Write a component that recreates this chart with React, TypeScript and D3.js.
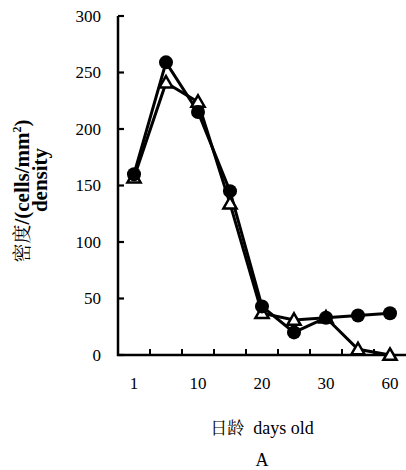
import React from "react";
import * as d3 from "d3";

const categories = ["1", "5", "10", "15", "20", "25", "30", "45", "60"];
const tickLabels = ["1", "10", "20", "30", "60"];
const circleSeries = [160, 259, 215, 145, 43, 20, 33, 35, 37];
const triangleSeries = [157, 241, 224, 134, 37, 31, 33, 5, 0];
const yTicks = [0, 50, 100, 150, 200, 250, 300];

const W = 406, H = 470;
const left = 118, right = 406, top = 16, bottom = 355;
const serif = "'Liberation Serif', 'DejaVu Serif', serif";
const cjk = "'Noto Serif CJK SC', 'Noto Sans CJK SC', serif";

export default function App() {
  const x = d3.scaleBand<string>().domain(categories).range([left, right]).padding(0);
  const y = d3.scaleLinear().domain([0, 300]).range([bottom, top]);
  const cx = (c: string) => (x(c) as number) + x.bandwidth() / 2;
  const line = d3.line<number>().x((_, i) => cx(categories[i])).y((d) => y(d));
  const tri = d3.symbol().type(d3.symbolTriangle).size(75)();
  const boundaries = categories.slice(1).map((c) => x(c) as number);
  return (
    <svg width={W} height={H} style={{ position: "absolute", left: 0, top: 0, background: "#fff", fontFamily: serif }}>
      <path d={`M${left},${top} V${bottom} H${right}`} fill="none" stroke="#000" strokeWidth={2.5} />
      {yTicks.map((t) => (
        <g key={t}>
          <line x1={left} x2={left + 6} y1={y(t)} y2={y(t)} stroke="#000" strokeWidth={2.2} />
          <text x={101} y={y(t) + 5.5} textAnchor="end" style={{ fontSize: 17, fontFamily: serif }}>{t}</text>
        </g>
      ))}
      {boundaries.map((b, i) => (
        <line key={i} x1={b} x2={b} y1={bottom} y2={bottom - 6} stroke="#000" strokeWidth={2} />
      ))}
      {tickLabels.map((t) => (
        <text key={t} x={cx(t)} y={389} textAnchor="middle" style={{ fontSize: 17, fontFamily: serif }}>{t}</text>
      ))}
      <path d={line(circleSeries) || ""} fill="none" stroke="#000" strokeWidth={3} />
      <path d={line(triangleSeries) || ""} fill="none" stroke="#000" strokeWidth={3} />
      {triangleSeries.map((v, i) => (
        <path key={"t" + i} d={tri || ""} transform={`translate(${cx(categories[i])},${y(v) + 1})`} fill="#fff" stroke="#000" strokeWidth={2.5} />
      ))}
      {circleSeries.map((v, i) => (
        <circle key={"c" + i} cx={cx(categories[i])} cy={y(v)} r={7} fill="#000" />
      ))}
      <g transform="translate(29,191) rotate(-90)">
        <text textAnchor="middle" style={{ fontSize: 21, fontWeight: "bold", fontFamily: serif }}>
          <tspan style={{ fontFamily: cjk, fontWeight: "normal", fontSize: 19 }}>密度</tspan>
          <tspan>/(cells/mm</tspan>
          <tspan style={{ fontSize: 12 }} dy={-8}>2</tspan>
          <tspan dy={8}>)</tspan>
        </text>
      </g>
      <g transform="translate(47,180) rotate(-90)">
        <text textAnchor="middle" style={{ fontSize: 21, fontWeight: "bold", fontFamily: serif }}>density</text>
      </g>
      <text x={262} y={434} textAnchor="middle" style={{ fontSize: 18, fontFamily: serif }}>
        <tspan style={{ fontFamily: cjk, fontSize: 17 }}>日龄</tspan>
        <tspan dx={9}>days old</tspan>
      </text>
      <text x={262} y={466} textAnchor="middle" style={{ fontSize: 18, fontFamily: serif }}>A</text>
    </svg>
  );
}
